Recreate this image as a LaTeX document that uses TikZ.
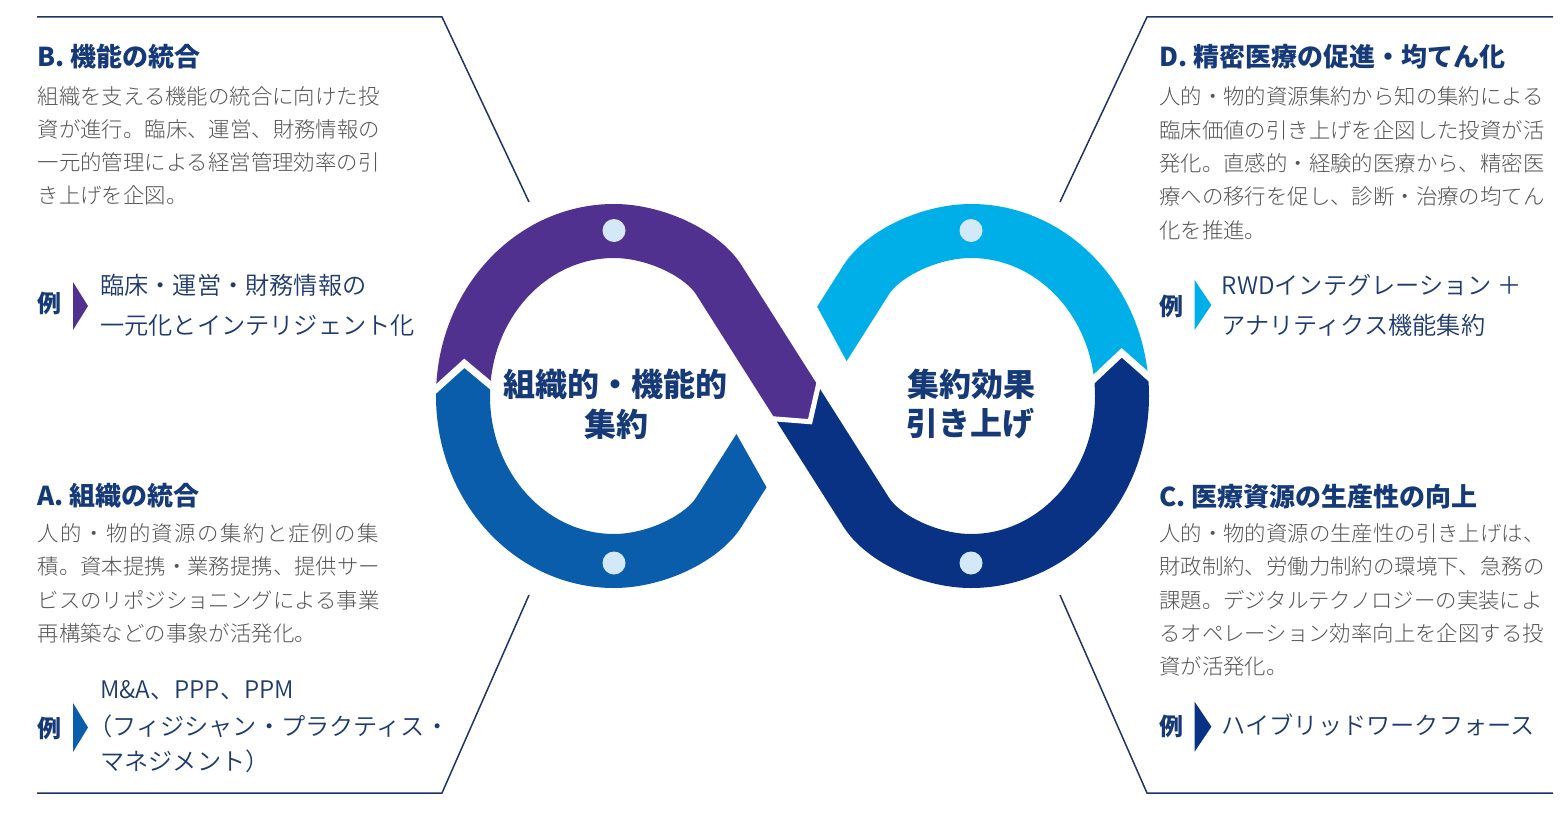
\documentclass[tikz,border=0pt]{standalone}
\usepackage{fontspec}
\setmainfont{Noto Sans CJK JP}
\IfFontExistsTF{Noto Sans CJK JP Light}{\newfontfamily\jplight{Noto Sans CJK JP Light}}{\newfontfamily\jplight{Noto Sans CJK JP}}
\IfFontExistsTF{Noto Sans CJK JP DemiLight}{\newfontfamily\jpdemi{Noto Sans CJK JP DemiLight}}{\newfontfamily\jpdemi{Noto Sans CJK JP}}
\definecolor{cPur}{HTML}{51318F}
\definecolor{cBlu}{HTML}{0A5DAB}
\definecolor{cCya}{HTML}{00AEE8}
\definecolor{cNav}{HTML}{0A3284}
\definecolor{cDot}{HTML}{D4E9F7}
\definecolor{cHead}{HTML}{163A78}
\definecolor{cBody}{HTML}{555555}
\definecolor{cEx}{HTML}{1E3A6E}
\definecolor{cLine}{HTML}{1F3566}
\tikzset{
  band/.style={line width=54pt},
  gapline/.style={draw=white, line width=7pt, line join=miter},
  frame/.style={draw=cLine, line width=1.5pt},
  heading/.style={anchor=west, inner sep=0pt, font=\bfseries\fontsize{26}{30}\selectfont, text=cHead},
  body/.style={anchor=west, inner sep=0pt, font=\jplight\fontsize{21.4}{26}\selectfont, text=cBody},
  extext/.style={anchor=west, inner sep=0pt, font=\jpdemi\fontsize{24.2}{28}\selectfont, text=cEx},
  rei/.style={anchor=west, inner sep=0pt, font=\bfseries\fontsize{24}{28}\selectfont, text=cHead},
  centertext/.style={inner sep=0pt, font=\bfseries\fontsize{32}{36}\selectfont, text=cHead},
  dot/.style={fill=cDot}
}
\begin{document}
\begin{tikzpicture}[x=1pt, y=-1pt]
\useasboundingbox (0,0) rectangle (1567,816);
\fill[white] (0,0) rectangle (1567,816);

% ---- blue (lower left) ----
\begin{scope}
\clip (380,403.6) -- (419.8,403.6) -- (464.3,363.3) -- (510.3,401.8) -- (900,401.8) -- (900,700) -- (380,700) -- cycle;
\draw[band, cBlu] (614,231) .. controls (530.6,231) and (463,304.9) .. (463,396) .. controls (463,487.1) and (530.6,561) .. (614,561) .. controls (654.6,561) and (701.8,539) .. (718.9,512) -- (792.5,396);
\end{scope}
% ---- cyan (upper right) ----
\begin{scope}
\clip (1078,394) -- (1121.7,352.8) -- (1166.6,392.6) -- (1200,392.6) -- (1200,150) -- (690,150) -- (690,394) -- cycle;
\draw[band, cCya] (971,561) .. controls (1054.4,561) and (1122,487.1) .. (1122,396) .. controls (1122,304.9) and (1054.4,231) .. (971,231) .. controls (930.4,231) and (883.2,253) .. (866.1,280) -- (792.5,396);
\end{scope}
% ---- gap in the under strand ----
\fill[white] (695.7,361.7) -- (791.9,531.8) -- (869,402.9) -- (777.7,233.9) -- cycle;
% ---- purple (upper left) ----
\begin{scope}
\clip (380,150) -- (380,403.6) -- (419.8,403.6) -- (464.3,363.3) -- (510.3,401.8) -- (740,416.2) -- (773.3,418.8) -- (810,421.7) -- (817.5,389) -- (850,250) -- (850,150) -- cycle;
\draw[band, cPur] (614,561) .. controls (530.6,561) and (463,487.1) .. (463,396) .. controls (463,304.9) and (530.6,231) .. (614,231) .. controls (654.6,231) and (701.8,253) .. (718.9,280) -- (815,431.4);
\end{scope}
% ---- navy (lower right) ----
\begin{scope}
\clip (740,416.2) -- (773.3,418.8) -- (810,421.7) -- (817.5,389) -- (830,340) -- (1040,340) -- (1078,394) -- (1121.7,352.8) -- (1166.6,392.6) -- (1200,392.6) -- (1200,650) -- (740,650) -- cycle;
\draw[band, cNav] (770,360.6) -- (792.5,396) -- (866.1,512) .. controls (883.2,539) and (930.4,561) .. (971,561) .. controls (1054.4,561) and (1122,487.1) .. (1122,396) .. controls (1122,304.9) and (1054.4,231) .. (971,231);
\end{scope}
% ---- white joints ----
\draw[gapline] (419.8,403.6) -- (464.3,363.3) -- (510.3,401.8);
\draw[gapline] (1078,394) -- (1121.7,352.8) -- (1166.6,392.6);
\draw[gapline, line width=5pt] (740,416.2) -- (773.3,418.8) -- (810,421.7) -- (817.5,389) -- (823,365);

% ---- dots ----
\fill[dot] (614,230.5) circle[radius=11.5];
\fill[dot] (614,563) circle[radius=11.5];
\fill[dot] (971,230.5) circle[radius=11.5];
\fill[dot] (971,563) circle[radius=11.5];

% ---- centre texts ----
\node[centertext] (cl1) at (615,384) {組織的・機能的};
\node[centertext] (cl2) at (616,424) {集約};
\node[centertext] (cr1) at (971.5,384) {集約効果};
\node[centertext] (cr2) at (970,424) {引き上げ};

% ---- frames ----
\draw[frame] (37,17) -- (442,17) -- (529,202);
\draw[frame] (37,793) -- (442,793) -- (529,595);
\draw[frame] (1553,17) -- (1147,17) -- (1060,202);
\draw[frame] (1553,793) -- (1147,793) -- (1060,595);

% ---- block B ----
\node[heading] (bh) at (37.5,56.7) {B. 機能の統合};
\node[body] (b1) at (37.5,96.7) {組織を支える機能の統合に向けた投};
\node[body] (b2) at (37.5,129.7) {資が進行。臨床、運営、財務情報の};
\node[body] (b3) at (37.5,162.7) {一元的管理による経営管理効率の引};
\node[body] (b4) at (37.5,195.7) {き上げを企図。};
\node[rei] (br) at (37.5,303) {例};
\fill[cPur] (73,282) -- (88,306) -- (73,330) -- cycle;
\node[extext] (be1) at (100,285) {臨床・運営・財務情報の};
\node[extext] (be2) at (100,325) {一元化とインテリジェント化};

% ---- block A ----
\node[heading] (ah) at (37.5,496) {A. 組織の統合};
\node[body] (a1) at (37.5,533.3) {\addfontfeature{LetterSpace=6.7}人的・物的資源の集約と症例の集};
\node[body] (a2) at (37.5,566.7) {積。資本提携・業務提携、提供サー};
\node[body] (a3) at (37.5,600) {ビスのリポジショニングによる事業};
\node[body] (a4) at (37.5,633.3) {再構築などの事象が活発化。};
\node[rei] (ar) at (37.5,728) {例};
\fill[cBlu] (73,703) -- (88,727.5) -- (73,752) -- cycle;
\node[extext] (ae1) at (100,690) {M\&A、PPP、PPM};
\node[extext] (ae2) at (88,726.7) {（フィジシャン・プラクティス・};
\node[extext] (ae3) at (100,761.7) {マネジメント）};

% ---- block D ----
\node[heading] (dh) at (1159,56.7) {D. 精密医療の促進・均てん化};
\node[body] (d1) at (1159,96.7) {人的・物的資源集約から知の集約による};
\node[body] (d2) at (1159,130) {臨床価値の引き上げを企図した投資が活};
\node[body] (d3) at (1159,163.3) {発化。直感的・経験的医療から、精密医};
\node[body] (d4) at (1159,196.7) {療への移行を促し、診断・治療の均てん};
\node[body] (d5) at (1159,230) {化を推進。};
\node[rei] (dr) at (1159,306.7) {例};
\fill[cCya] (1194.6,280) -- (1211.4,305) -- (1194.6,330) -- cycle;
\node[extext] (de1) at (1221.5,285) {RWDインテグレーション ＋};
\node[extext] (de2) at (1221.5,325) {アナリティクス機能集約};

% ---- block C ----
\node[heading] (ch) at (1159,496.7) {C. 医療資源の生産性の向上};
\node[body] (c1) at (1159,533.3) {人的・物的資源の生産性の引き上げは、};
\node[body] (c2) at (1159,566.7) {財政制約、労働力制約の環境下、急務の};
\node[body] (c3) at (1159,600) {課題。デジタルテクノロジーの実装によ};
\node[body] (c4) at (1159,633.3) {るオペレーション効率向上を企図する投};
\node[body] (c5) at (1159,666.7) {資が活発化。};
\node[rei] (cr) at (1159,726.7) {例};
\fill[cNav] (1194.6,701.7) -- (1211.4,726.7) -- (1194.6,751.7) -- cycle;
\node[extext] (ce1) at (1221.5,725) {ハイブリッドワークフォース};
\end{tikzpicture}
\end{document}
